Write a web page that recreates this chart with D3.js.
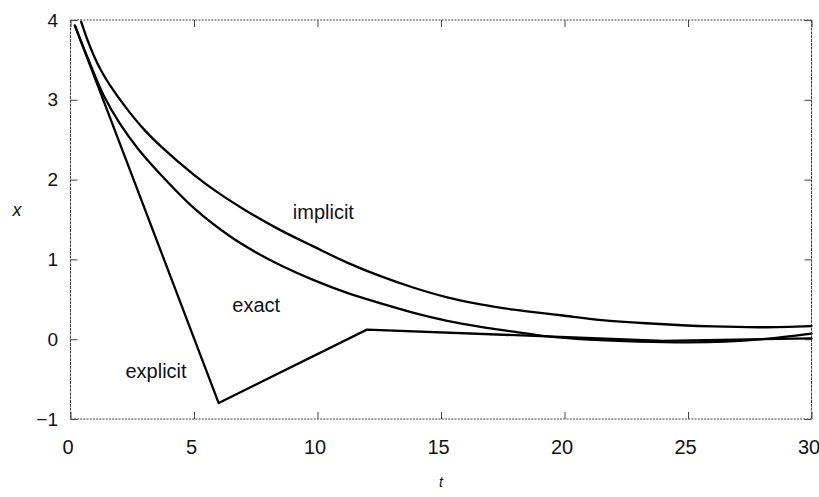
<!DOCTYPE html>
<html>
<head>
<meta charset="utf-8">
<script src="https://cdn.jsdelivr.net/npm/d3@7"></script>
<style>
  html, body { margin: 0; padding: 0; background: #fff; }
  svg { display: block; }
  text { font-family: "Liberation Sans", Arial, Helvetica, sans-serif; fill: #111; }
</style>
</head>
<body>
<svg id="chart" width="819" height="497"></svg>
<script>
// Tick values
const xTicks = [0, 5, 10, 15, 20, 25, 30];
const yTicks = [-1, 0, 1, 2, 3, 4];

// Exact solution
const exactT = [0.18, 0.7, 1.35, 2.0, 2.7, 3.6, 5.08, 6.5, 7.5, 8.48, 9.85, 11.2, 12.55, 13.9, 15.25, 16.6, 17.95, 19.3, 21.0, 23.0, 25.0, 26.5, 28.0, 30.0];
const exactX = [3.93, 3.52, 3.05, 2.70, 2.40, 2.08, 1.62, 1.28, 1.09, 0.93, 0.74, 0.58, 0.45, 0.33, 0.23, 0.155, 0.094, 0.035, -0.005, -0.03, -0.04, -0.03, 0.0, 0.07];

// Implicit (backward) scheme
const implicitT = [0.43, 0.7, 0.95, 1.25, 1.6, 2.3, 3.0, 3.65, 5.0, 6.0, 7.06, 8.48, 9.85, 11.2, 12.55, 13.9, 15.25, 16.6, 17.95, 19.84, 21.5, 23.3, 26.0, 28.0, 30.0];
const implicitX = [3.98, 3.74, 3.55, 3.36, 3.18, 2.88, 2.62, 2.42, 2.06, 1.83, 1.62, 1.37, 1.16, 0.96, 0.79, 0.645, 0.525, 0.435, 0.37, 0.30, 0.24, 0.20, 0.16, 0.15, 0.165];

// Explicit (forward) scheme, large step
const explicitT = [0.18, 6.0, 12.0, 18.0, 24.0, 30.0];
const explicitX = [3.93, -0.80, 0.12, 0.05, -0.02, 0.01];

// Curve labels
const labelText = ["implicit", "exact", "explicit"];
const labelT = [9.0, 6.55, 4.7];
const labelX = [1.51, 0.34, -0.48];

const svg = d3.select("#chart");
const plotLeft = 70.5, plotRight = 811.5, plotTop = 20, plotBottom = 419;
const x = d3.scaleLinear().domain([0, 30]).range([plotLeft, plotRight]);
const y = d3.scaleLinear().domain([-1, 4]).range([plotBottom, plotTop]);

// Frame
const frame = svg.append("g").attr("stroke", "#444").attr("stroke-width", 1.1).attr("fill", "none");
frame.append("line").attr("x1", plotLeft).attr("x2", plotRight).attr("y1", plotTop).attr("y2", plotTop).attr("stroke-dasharray", "2,1.2");
frame.append("line").attr("x1", plotLeft).attr("x2", plotRight).attr("y1", plotBottom).attr("y2", plotBottom).attr("stroke-dasharray", "2,1.2");
frame.append("line").attr("x1", plotLeft).attr("x2", plotLeft).attr("y1", plotTop).attr("y2", plotBottom).attr("stroke-dasharray", "3,0.8");
frame.append("line").attr("x1", plotRight).attr("x2", plotRight).attr("y1", plotTop).attr("y2", plotBottom).attr("stroke-dasharray", "3,0.8");

const tickLen = 7;
function styleAxis(g) {
  g.select(".domain").remove();
  g.selectAll(".tick line").attr("stroke", "#444").attr("stroke-width", 1);
}

// Bottom axis with labels
svg.append("g").attr("transform", `translate(0,${plotBottom})`)
  .call(d3.axisBottom(x).tickValues(xTicks).tickSizeInner(-tickLen).tickSizeOuter(0).tickPadding(21).tickFormat(d3.format("d")))
  .call(styleAxis)
  .call(g => g.selectAll(".tick text").attr("font-size", 20).attr("fill", "#111").attr("dx", -3).style("font-family", "Liberation Sans, Arial, sans-serif"));

// Left axis with labels (true minus sign)
svg.append("g").attr("transform", `translate(${plotLeft},0)`)
  .call(d3.axisLeft(y).tickValues(yTicks).tickSizeInner(-tickLen).tickSizeOuter(0).tickPadding(12.5).tickFormat(d => d < 0 ? "\u2212" + Math.abs(d) : String(d)))
  .call(styleAxis)
  .call(g => g.selectAll(".tick text").attr("font-size", 19).attr("fill", "#111").style("font-family", "Liberation Sans, Arial, sans-serif"));

// Mirrored ticks on top and right
svg.append("g").attr("transform", `translate(0,${plotTop})`)
  .call(d3.axisTop(x).tickValues(xTicks).tickSizeInner(-tickLen).tickSizeOuter(0).tickFormat(""))
  .call(styleAxis);
svg.append("g").attr("transform", `translate(${plotRight},0)`)
  .call(d3.axisRight(y).tickValues(yTicks).tickSizeInner(-tickLen).tickSizeOuter(0).tickFormat(""))
  .call(styleAxis);

// Axis titles
svg.append("text").attr("x", 17).attr("y", 216).attr("text-anchor", "middle")
  .attr("font-size", 18).attr("font-style", "italic").text("x");
svg.append("text").attr("x", x(15)).attr("y", 487).attr("text-anchor", "middle")
  .attr("font-size", 14).attr("font-style", "italic").text("t");

// Curves
const pairs = (ts, xs) => ts.map((t, i) => [t, xs[i]]);
const smooth = d3.line().x(d => x(d[0])).y(d => y(d[1])).curve(d3.curveCatmullRom.alpha(0.5));
const straight = d3.line().x(d => x(d[0])).y(d => y(d[1]));

const curves = svg.append("g").attr("fill", "none").attr("stroke", "#000").attr("stroke-width", 2.3)
  .attr("stroke-linejoin", "round").attr("stroke-linecap", "round");
curves.append("path").attr("d", smooth(pairs(implicitT, implicitX)));
curves.append("path").attr("d", smooth(pairs(exactT, exactX)));
curves.append("path").attr("d", straight(pairs(explicitT, explicitX)));

// Curve labels
svg.append("g").selectAll("text").data(labelText).join("text")
  .attr("x", (d, i) => x(labelT[i]))
  .attr("y", (d, i) => y(labelX[i]))
  .attr("text-anchor", (d, i) => i === 2 ? "end" : "start")
  .attr("font-size", 20)
  .text(d => d);
</script>
</body>
</html>
